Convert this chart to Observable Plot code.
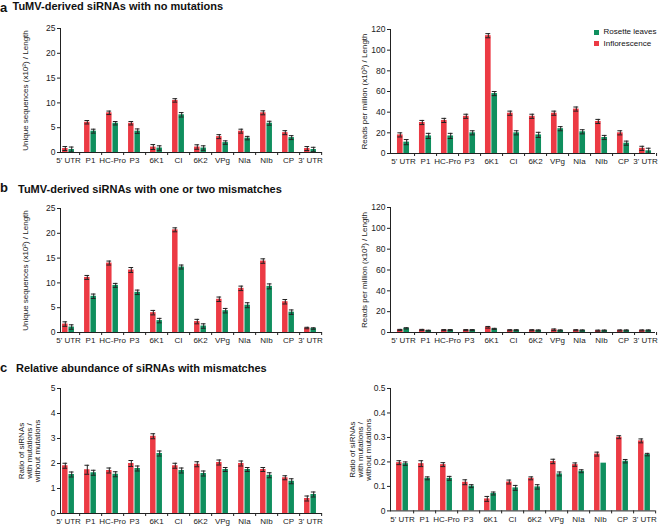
<!DOCTYPE html>
<html><head><meta charset="utf-8">
<script src="https://cdn.jsdelivr.net/npm/d3@7"></script>
<script src="https://cdn.jsdelivr.net/npm/@observablehq/plot@0.6"></script>
<style>
body{margin:0;background:#fff;overflow:hidden;}
#root{position:relative;width:660px;height:526px;font-family:"Liberation Sans",Arial,sans-serif;color:#111;overflow:hidden;}
.p{position:absolute;}
.ttl{position:absolute;font-weight:bold;font-size:11px;line-height:11px;white-space:nowrap;}
.lt{position:absolute;font-weight:bold;font-size:13px;line-height:4px;}
.lg{position:absolute;font-size:8px;line-height:8px;white-space:nowrap;}
.sw{position:absolute;width:5px;height:5px;}
</style></head><body><div id="root"></div>
<script>
const categories = ["5' UTR","P1","HC-Pro","P3","6K1","CI","6K2","VPg","NIa","NIb","CP","3' UTR"];
const seriesNames = ["Rosette leaves","Inflorescence"];
const RED = "#ec3a44", GREEN = "#0f8f5e";

// a: no mutations — unique sequences (x10^2)/length
const aUniqueInflo = [0.8, 6.1, 8.0, 5.9, 1.1, 10.5, 1.1, 3.2, 4.3, 8.0, 4.0, 0.8];
const aUniqueInfloErr = [0.4, 0.35, 0.35, 0.35, 0.5, 0.35, 0.45, 0.4, 0.4, 0.4, 0.4, 0.4];
const aUniqueRosette = [0.6, 4.3, 5.9, 4.3, 0.9, 7.6, 0.9, 2.0, 2.9, 5.9, 3.0, 0.6];
const aUniqueRosetteErr = [0.5, 0.4, 0.35, 0.45, 0.45, 0.45, 0.45, 0.35, 0.35, 0.4, 0.4, 0.45];
// a: reads per million (x10^3)/length
const aReadsInflo = [18, 30, 32, 36, 114, 39, 36, 39, 43, 31, 20, 5];
const aReadsInfloErr = [2, 2, 2, 2, 2, 2, 2, 2, 2, 2, 2, 2];
const aReadsRosette = [11, 17, 17, 20, 58, 20, 18, 24, 21, 15.5, 10, 2.6];
const aReadsRosetteErr = [2.5, 2.5, 2.5, 2, 2, 2, 2.5, 2, 2, 2, 2, 2.5];
// b: one or two mismatches — unique sequences
const bUniqueInflo = [1.7, 11.1, 14.0, 12.6, 4.0, 20.7, 2.2, 6.7, 8.9, 14.4, 6.2, 0.9];
const bUniqueInfloErr = [0.45, 0.4, 0.4, 0.5, 0.45, 0.4, 0.45, 0.45, 0.45, 0.45, 0.45, 0.15];
const bUniqueRosette = [1.1, 7.3, 9.5, 8.1, 2.4, 13.2, 1.3, 4.4, 5.5, 9.3, 4.1, 0.8];
const bUniqueRosetteErr = [0.45, 0.45, 0.4, 0.45, 0.45, 0.4, 0.45, 0.45, 0.5, 0.5, 0.45, 0.15];
// b: reads per million
const bReadsInflo = [2.5, 2.5, 2.3, 2.3, 5.0, 2.2, 2.2, 2.6, 2.2, 1.8, 2.0, 2.0];
const bReadsInfloErr = [0.5, 0.5, 0.5, 0.5, 0.8, 0.5, 0.5, 0.8, 0.5, 0.5, 0.5, 0.5];
const bReadsRosette = [4.0, 1.8, 2.3, 2.3, 3.5, 2.2, 2.0, 2.0, 2.0, 1.9, 2.0, 2.0];
const bReadsRosetteErr = [0.6, 0.4, 0.5, 0.5, 0.5, 0.5, 0.5, 0.5, 0.5, 0.5, 0.5, 0.5];
// c: ratio with/without mutations — unique sequences
const cUniqueInflo = [1.91, 1.75, 1.72, 2.0, 3.09, 1.91, 1.97, 2.04, 2.0, 1.76, 1.43, 0.6];
const cUniqueInfloErr = [0.1, 0.18, 0.1, 0.12, 0.1, 0.1, 0.1, 0.1, 0.1, 0.08, 0.08, 0.1];
const cUniqueRosette = [1.56, 1.63, 1.57, 1.8, 2.4, 1.72, 1.6, 1.76, 1.76, 1.53, 1.29, 0.76];
const cUniqueRosetteErr = [0.1, 0.1, 0.1, 0.1, 0.1, 0.1, 0.1, 0.08, 0.08, 0.1, 0.1, 0.1];
// c: ratio — reads
const cReadsInflo = [0.197, 0.193, 0.189, 0.117, 0.049, 0.118, 0.133, 0.202, 0.189, 0.232, 0.301, 0.286];
const cReadsInfloErr = [0.008, 0.012, 0.008, 0.01, 0.01, 0.008, 0.006, 0.009, 0.007, 0.008, 0.006, 0.008];
const cReadsRosette = [0.193, 0.133, 0.133, 0.101, 0.071, 0.094, 0.098, 0.151, 0.162, 0.195, 0.203, 0.230];
const cReadsRosetteErr = [0.007, 0.006, 0.008, 0.006, 0.006, 0.01, 0.009, 0.008, 0.006, 0, 0.007, 0.005];

const yTicksUnique = [0, 5, 10, 15, 20, 25];
const yTicksReads = [0, 20, 40, 60, 80, 100, 120];
const yTicksRatioUnique = [0, 1, 2, 3, 4, 5];
const yTicksRatioReads = [0, 0.1, 0.2, 0.3, 0.4, 0.5];

const labelUnique = "Unique sequences (x10²) / Length";
const labelReads = "Reads per million (x10³) / Length";
const labelRatio = "Ratio of siRNAs\nwith mutations /\nwithout mutations";

const root = document.getElementById("root");

function panel(o) {
  const red = categories.map((c, i) => ({cat: c, v: o.red[i], e: o.redErr[i]}));
  const green = categories.map((c, i) => ({cat: c, v: o.green[i], e: o.greenErr[i]}));
  const bw = (o.xr[1] - o.xr[0]) / categories.length;
  const half = bw / 2, barW = 5.8, gap = 0.6, capW = 5;
  const rOff = -(gap / 2 + barW / 2), gOff = gap / 2 + barW / 2;
  const errMarks = (data, off) => {
    const d = data.filter(r => r.e > 0);
    const tick = (f) => Plot.tickY(d, {x: "cat", y: f, stroke: "#222", strokeWidth: 1,
      insetLeft: half + off - capW / 2, insetRight: half - off - capW / 2});
    return [
      Plot.ruleX(d, {x: "cat", y1: r => r.v - r.e, y2: r => r.v + r.e, dx: off, stroke: "#222", strokeWidth: 1}),
      tick(r => r.v + r.e), tick(r => r.v - r.e)
    ];
  };
  const fmt = o.fmt || (d => d);
  const chart = Plot.plot({
    width: 330, height: o.height,
    marginLeft: o.ml, marginRight: o.mr, marginTop: o.mt, marginBottom: o.mb,
    style: {fontFamily: "Liberation Sans, Arial, sans-serif", color: "#222", background: "transparent"},
    x: {type: "band", domain: categories, range: o.xr, padding: 0},
    y: {domain: o.yDomain},
    marks: [
      Plot.barY(red, {x: "cat", y: "v", fill: RED, insetLeft: half - gap / 2 - barW, insetRight: half + gap / 2}),
      Plot.barY(green, {x: "cat", y: "v", fill: GREEN, insetLeft: half + gap / 2, insetRight: half - gap / 2 - barW}),
      ...errMarks(red, rOff),
      ...errMarks(green, gOff),
      Plot.ruleY([0], {stroke: "#222", strokeWidth: 1}),
      Plot.frame({anchor: "left", stroke: "#222", strokeWidth: 1}),
      Plot.axisY({ticks: o.yTicks, tickSize: 3, tickPadding: 2, fontSize: 8.5, label: null, tickFormat: fmt}),
      Plot.axisX({tickSize: 0, tickPadding: 5, fontSize: 8, label: null}),
      Plot.axisX({tickSize: 3, tickFormat: () => "", dx: half, label: null}),
      Plot.text([o.yLabel], {text: d => d, frameAnchor: "left", rotate: -90, dx: o.ldx, fontSize: 8, lineHeight: 0.98, textAnchor: "middle"})
    ]
  });
  chart.classList.add("p");
  chart.style.left = o.left + "px";
  chart.style.top = o.top + "px";
  root.appendChild(chart);
}

panel({left: 0, top: 18, height: 150, mt: 10, mb: 16, ml: 60, mr: 8, xr: [55.2, 322.8],
  yDomain: [0, 25], yTicks: yTicksUnique, yLabel: labelUnique, ldx: -35,
  red: aUniqueInflo, redErr: aUniqueInfloErr, green: aUniqueRosette, greenErr: aUniqueRosetteErr});
panel({left: 330, top: 19, height: 150, mt: 10, mb: 16, ml: 60, mr: 5, xr: [61.4, 327],
  yDomain: [0, 120], yTicks: yTicksReads, yLabel: labelReads, ldx: -26,
  red: aReadsInflo, redErr: aReadsInfloErr, green: aReadsRosette, greenErr: aReadsRosetteErr});
panel({left: 0, top: 197.7, height: 150, mt: 10, mb: 16, ml: 60, mr: 8, xr: [55.2, 322.8],
  yDomain: [0, 25], yTicks: yTicksUnique, yLabel: labelUnique, ldx: -35,
  red: bUniqueInflo, redErr: bUniqueInfloErr, green: bUniqueRosette, greenErr: bUniqueRosetteErr});
panel({left: 330, top: 196.7, height: 151, mt: 10, mb: 16, ml: 60, mr: 5, xr: [61.4, 327],
  yDomain: [0, 120], yTicks: yTicksReads, yLabel: labelReads, ldx: -26,
  red: bReadsInflo, redErr: bReadsInfloErr, green: bReadsRosette, greenErr: bReadsRosetteErr});
panel({left: 0, top: 378.3, height: 151, mt: 10, mb: 16, ml: 60, mr: 8, xr: [55.2, 322.8],
  yDomain: [0, 5], yTicks: yTicksRatioUnique, yLabel: labelRatio, ldx: -31,
  red: cUniqueInflo, redErr: cUniqueInfloErr, green: cUniqueRosette, greenErr: cUniqueRosetteErr});
panel({left: 330, top: 378.3, height: 148.4, mt: 10, mb: 16, ml: 60, mr: 5, xr: [59.5, 327],
  yDomain: [0, 0.5], yTicks: yTicksRatioReads, yLabel: labelRatio, ldx: -30,
  fmt: d => d === 0 ? "0" : d3.format(".1f")(d),
  red: cReadsInflo, redErr: cReadsInfloErr, green: cReadsRosette, greenErr: cReadsRosetteErr});

function addDiv(cls, text, left, top, extra) {
  const d = document.createElement("div");
  d.className = cls; d.textContent = text;
  d.style.left = left + "px"; d.style.top = top + "px";
  if (extra) Object.assign(d.style, extra);
  root.appendChild(d);
}
addDiv("lt", "a", 0, 5.5);
addDiv("ttl", "TuMV-derived siRNAs with no mutations", 12.5, 0.7);
addDiv("lt", "b", 0, 185.5);
addDiv("ttl", "TuMV-derived siRNAs with one or two mismatches", 18, 183.7);
addDiv("lt", "c", 0, 365.5);
addDiv("ttl", "Relative abundance of siRNAs with mismatches", 16, 362.7);
// legend
const legendColors = [GREEN, RED];
seriesNames.forEach((s, i) => {
  addDiv("sw", "", 594, 29.5 + i * 11.2, {background: legendColors[i]});
  addDiv("lg", s, 603.5, 28.3 + i * 11.2);
});
</script></body></html>
